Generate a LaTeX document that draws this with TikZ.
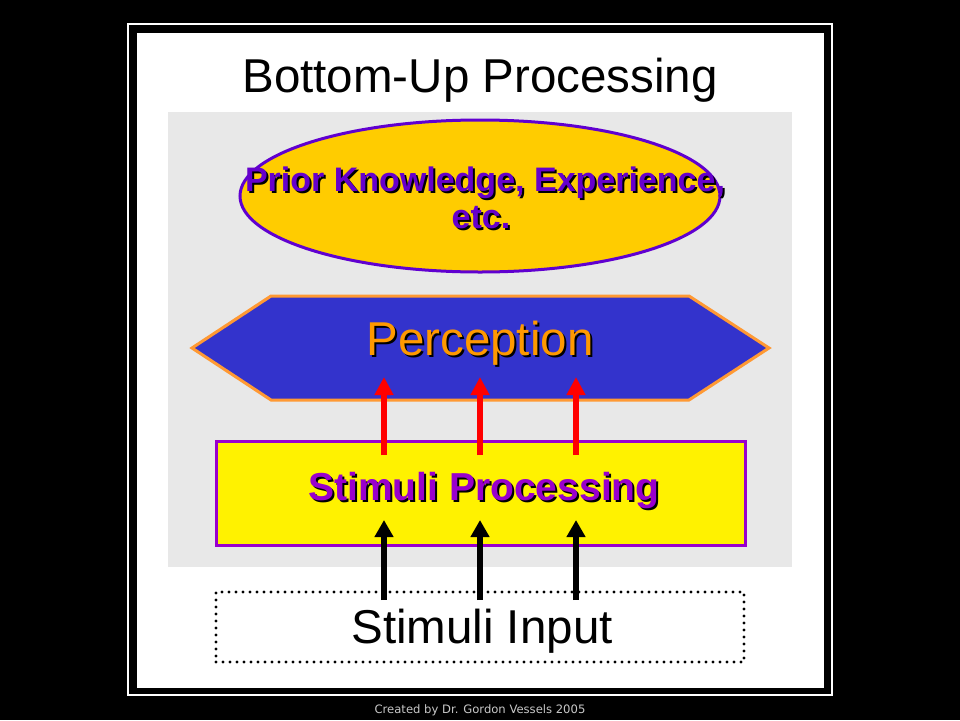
\documentclass[tikz,border=0pt]{standalone}
\usepackage{fontspec}
\setmainfont{Liberation Sans}
\newfontfamily\capfont{DejaVu Sans}
\usetikzlibrary{arrows.meta,shapes.geometric}
\definecolor{panelgray}{HTML}{E8E8E8}
\definecolor{ellfill}{HTML}{FFCC00}
\definecolor{elldraw}{HTML}{6000D0}
\definecolor{elltext}{HTML}{6600CC}
\definecolor{hexfill}{HTML}{3333CC}
\definecolor{hexdraw}{HTML}{FF9933}
\definecolor{hextext}{HTML}{FF9900}
\definecolor{boxdraw}{HTML}{9900CC}
\definecolor{boxtext}{HTML}{9900CC}
\definecolor{capgray}{HTML}{C8C8C8}
\tikzset{
  redarrow/.style={draw=red, line width=6.5pt, -{Triangle[length=18pt,width=18pt]}},
  blackarrow/.style={draw=black, line width=6pt, -{Triangle[length=17pt,width=18pt]}},
  shadowtext/.style={text=black, inner sep=0pt, anchor=base},
  lbl/.style={inner sep=0pt, anchor=base},
  bigfont/.style={font=\fontsize{47.5}{56}\selectfont},
  priorfont/.style={font=\fontsize{34}{36}\selectfont\bfseries},
  procfont/.style={font=\fontsize{39}{46}\selectfont\bfseries},
}
\begin{document}
\begin{tikzpicture}[x=1pt,y=-1pt]
% background
\fill[black] (0,0) rectangle (960,720);
\useasboundingbox (0,0) rectangle (960,720);
\draw[white, line width=2pt] (128,24) rectangle (832,695);
\fill[white] (137,33) rectangle (824,688);
% title
\node[lbl, bigfont] (title) at (480,92) {Bottom-Up Processing};
% gray panel
\fill[panelgray] (168,112) rectangle (792,567);
% ellipse
\node[ellipse, fill=ellfill, draw=elldraw, line width=3pt, minimum width=480pt, minimum height=152pt, inner sep=0pt] (prior) at (480,196) {};
\node[shadowtext, priorfont] (priorshadowa) at (487,193) {Prior Knowledge, Experience,};
\node[lbl, priorfont, text=elltext] (priortexta) at (485,191) {Prior Knowledge, Experience,};
\node[shadowtext, priorfont] (priorshadowb) at (483,230) {etc.};
\node[lbl, priorfont, text=elltext] (priortextb) at (481,228) {etc.};
% hexagon
\filldraw[fill=hexfill, draw=hexdraw, line width=3pt, line join=miter]
  (192,348) -- (271,296) -- (689,296) -- (769,348) -- (689,400) -- (271,400) -- cycle;
\node[shadowtext, bigfont] (percshadow) at (482,357) {Perception};
\node[lbl, bigfont, text=hextext] (perctext) at (480,355) {Perception};
% stimuli processing box
\node[draw=boxdraw, fill=yellow, line width=3pt, minimum width=529pt, minimum height=104pt, inner sep=0pt] (proc) at (480.5,493) {};
\node[shadowtext, procfont] (procshadow) at (486,502) {Stimuli Processing};
\node[lbl, procfont, text=boxtext] (proctext) at (484,500) {Stimuli Processing};
% stimuli input box
\node[draw=black, line width=3.2pt, dash pattern=on 0pt off 7pt, line cap=round, minimum width=528pt, minimum height=70pt, inner sep=0pt] (input) at (480,627) {};
\node[lbl, bigfont] (inputtext) at (482,643) {Stimuli Input};
% red arrows
\coordinate (r1s) at (384,455); \coordinate (r1e) at (384,377);
\coordinate (r2s) at (480,455); \coordinate (r2e) at (480,377);
\coordinate (r3s) at (576,455); \coordinate (r3e) at (576,377);
\draw[redarrow] (r1s) -- (r1e);
\draw[redarrow] (r2s) -- (r2e);
\draw[redarrow] (r3s) -- (r3e);
% black arrows
\coordinate (b1s) at (384,600); \coordinate (b1e) at (384,520);
\coordinate (b2s) at (480,600); \coordinate (b2e) at (480,520);
\coordinate (b3s) at (576,600); \coordinate (b3e) at (576,520);
\draw[blackarrow] (b1s) -- (b1e);
\draw[blackarrow] (b2s) -- (b2e);
\draw[blackarrow] (b3s) -- (b3e);
% caption
\node[lbl, text=capgray, font=\capfont\fontsize{11.6}{13}\selectfont] (caption) at (480,713) {Created by Dr. Gordon Vessels 2005};
\end{tikzpicture}
\end{document}
